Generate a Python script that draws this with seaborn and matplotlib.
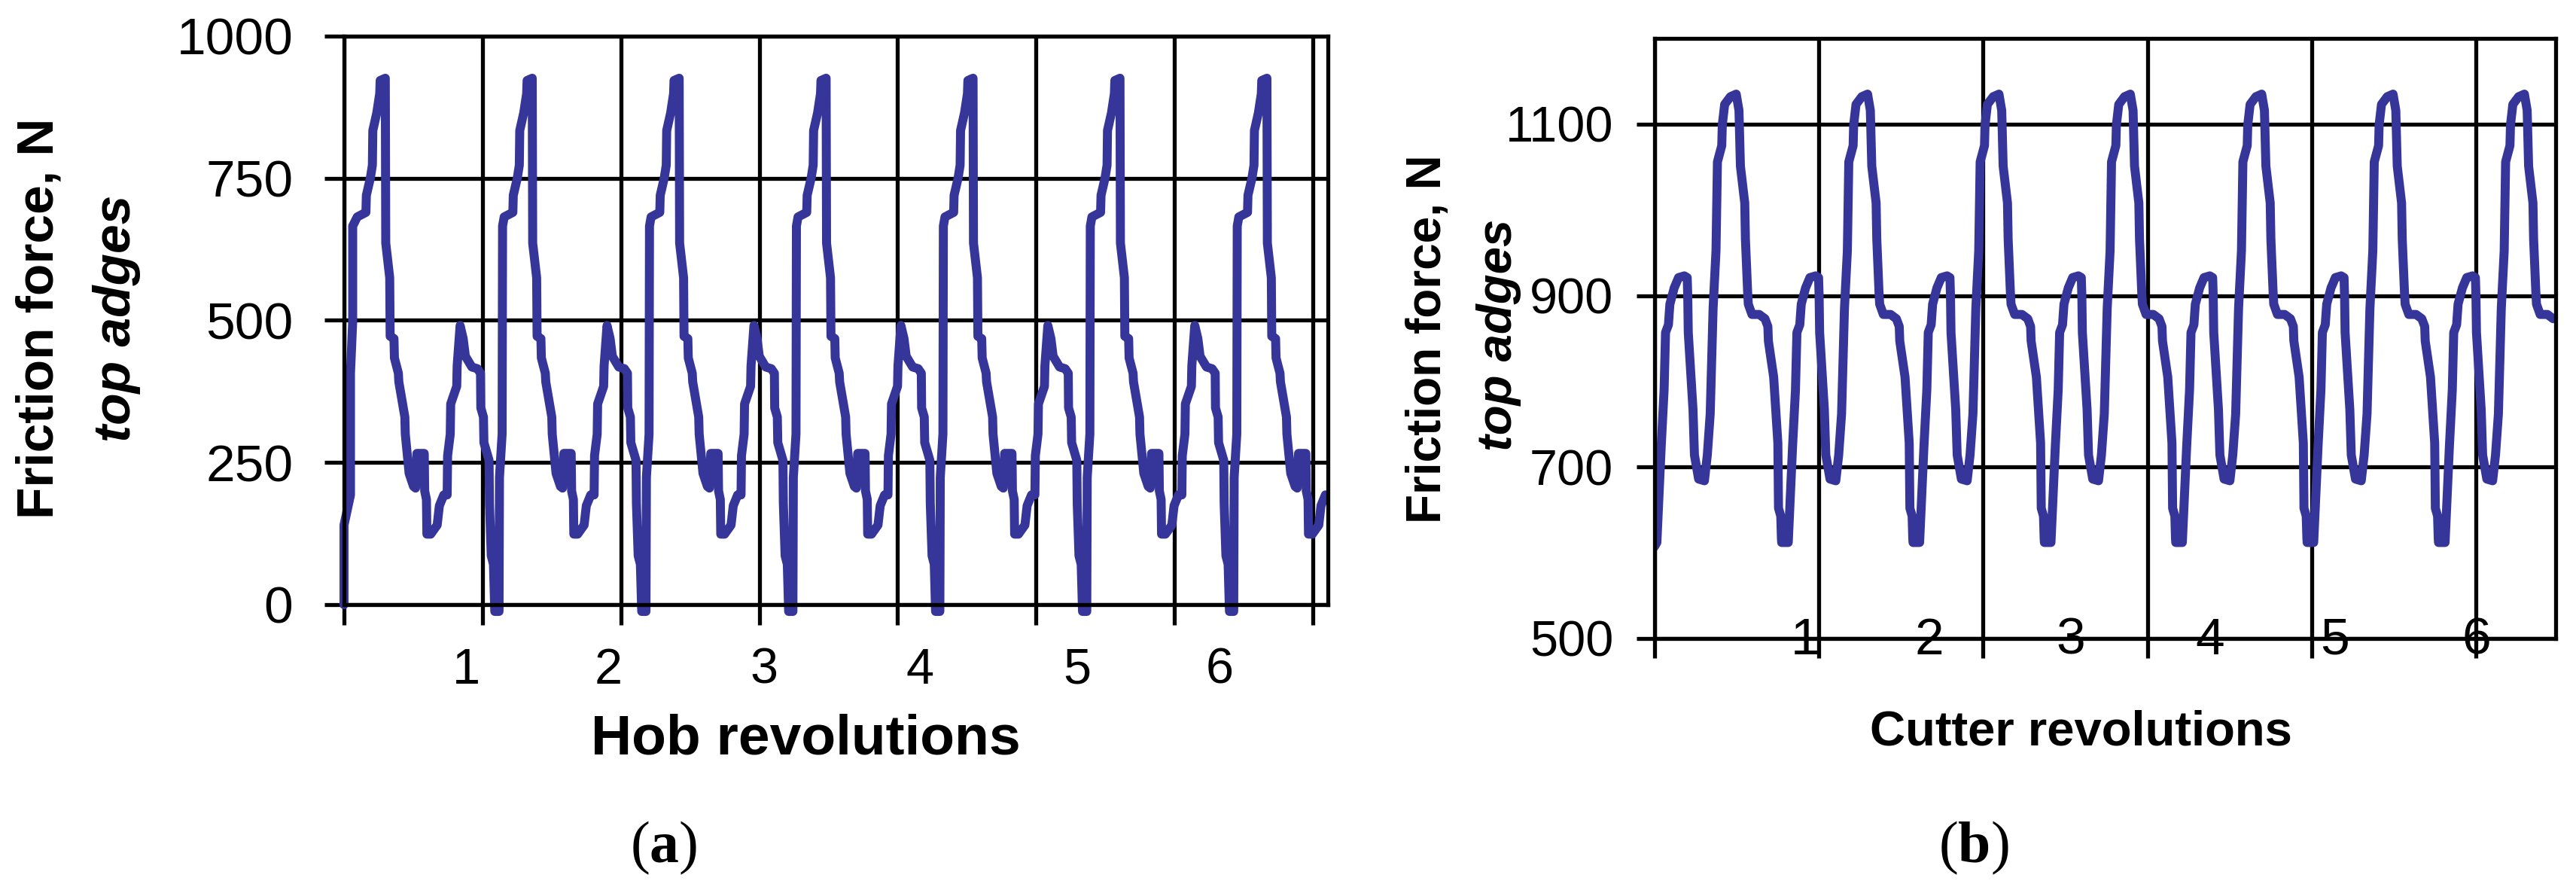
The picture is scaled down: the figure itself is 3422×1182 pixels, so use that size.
import matplotlib
matplotlib.use("Agg")
import matplotlib.pyplot as plt
import seaborn as sns
import pandas as pd

# --- (a) hob: one revolution of the friction force
# position from the start of the cycle (revolutions) and force (N)
hob_cycle_pos = [0.000, 0.003, 0.021, 0.024, 0.035, 0.094, 0.097, 0.124, 0.138, 0.141,
                 0.168, 0.188, 0.191, 0.226, 0.229, 0.256, 0.259, 0.285, 0.288, 0.315,
                 0.318, 0.359, 0.362, 0.388, 0.418, 0.432, 0.441, 0.491, 0.494, 0.506,
                 0.509, 0.535, 0.579, 0.594, 0.624, 0.647, 0.650, 0.668, 0.671, 0.712,
                 0.715, 0.735, 0.756, 0.771, 0.815, 0.853, 0.874, 0.876, 0.894, 0.897,
                 0.932, 0.935, 0.947, 0.962, 0.971]
hob_cycle_force = [-12, 224, 300, 666, 682, 690, 720, 750, 773, 834,
                   865, 899, 922, 926, 636, 575, 472, 468, 434, 407,
                   392, 330, 300, 231, 208, 205, 266, 266, 200, 185,
                   124, 124, 140, 174, 193, 193, 262, 300, 353, 384,
                   420, 491, 468, 437, 418, 415, 407, 346, 330, 285,
                   254, 178, 86, 71, -12]
# beginning of the record, before the first cycle
hob_lead_pos = [0.000, 0.000, 0.044, 0.044, 0.059, 0.059]
hob_lead_force = [0, 140, 193, 407, 498, 666]
hob_phase = 0.055
hob_first_from = 0.03
hob_cycles = 7
hob_x_end = 6.696
hob_grid_step = 0.942
hob_label_pos = [0.83, 1.80, 2.86, 3.92, 4.99, 5.96]
hob_yticks = [0, 250, 500, 750, 1000]

# --- (b) cutter
cutter_cycle_pos = [0.000, 0.050, 0.061, 0.083, 0.105, 0.116, 0.138, 0.149, 0.182, 0.215,
                    0.259, 0.281, 0.285, 0.289, 0.325, 0.336, 0.368, 0.412, 0.434, 0.456,
                    0.478, 0.500, 0.511, 0.544, 0.548, 0.566, 0.610, 0.654, 0.675, 0.686,
                    0.719, 0.724, 0.741, 0.746, 0.774, 0.829, 0.873, 0.895, 0.899, 0.939,
                    0.971, 0.976, 0.993, 0.998]
cutter_cycle_force = [612, 612, 650, 724, 790, 857, 866, 890, 909, 921,
                      923, 921, 900, 857, 767, 714, 686, 684, 714, 762,
                      885, 952, 1056, 1075, 1099, 1123, 1132, 1135, 1116, 1051,
                      1008, 966, 904, 890, 878, 878, 873, 864, 847, 805,
                      728, 652, 643, 617]
cutter_lead_pos = [0.0]
cutter_lead_force = [607]
cutter_phase = -0.031
cutter_first_from = 0.0
cutter_cycles = 7
cutter_x_end = 6.861
cutter_grid_step = 1.251
cutter_label_pos = [1.15, 2.09, 3.17, 4.23, 5.18, 6.26]
cutter_yticks = [500, 700, 900, 1100]

rev_labels = ['1', '2', '3', '4', '5', '6']


def build_series(lead_pos, lead_force, cyc_pos, cyc_force, phase, first_from, n_cycles, x_end):
    xs, ys = list(lead_pos), list(lead_force)
    for k in range(n_cycles):
        for p, f in zip(cyc_pos, cyc_force):
            if k == 0 and p < first_from:
                continue
            x = phase + k + p
            if 0 < x <= x_end:
                xs.append(x)
                ys.append(f)
    return pd.DataFrame({'rev': xs, 'force': ys})


df_hob = build_series(hob_lead_pos, hob_lead_force, hob_cycle_pos, hob_cycle_force,
                      hob_phase, hob_first_from, hob_cycles, hob_x_end)
df_cutter = build_series(cutter_lead_pos, cutter_lead_force, cutter_cycle_pos, cutter_cycle_force,
                         cutter_phase, cutter_first_from, cutter_cycles, cutter_x_end)

sns.set_style('ticks')
plt.rcParams['font.family'] = ['Liberation Sans', 'DejaVu Sans']
plt.rcParams['mathtext.fontset'] = 'custom'
plt.rcParams['mathtext.rm'] = 'Liberation Serif'
plt.rcParams['mathtext.bf'] = 'Liberation Serif:bold'
for key in ['text.color', 'axes.labelcolor', 'xtick.color', 'ytick.color', 'axes.edgecolor']:
    plt.rcParams[key] = 'black'

W, H, DPI = 3422, 1182, 200
LINE = '#35359a'
GRID_LW = 1.9
CURVE_LW = 4.3

fig = plt.figure(figsize=(W / DPI, H / DPI), dpi=DPI)
ax_a = fig.add_axes([457 / W, 1 - 803 / H, (1764 - 457) / W, (803 - 48) / H])
ax_b = fig.add_axes([2197.7 / W, 1 - 848 / H, (3395 - 2197.7) / W, (848 - 51) / H])


def style_axes(ax, grid_step, n_grid, label_pos, yticks, ylim, x_end,
               ylen, xlen, ypad, xpad, ysize, xsize):
    ax.set_xlim(0, x_end)
    ax.set_ylim(*ylim)
    ax.set_xticks([i * grid_step for i in range(n_grid)], labels=[''] * n_grid)
    ax.set_xticks(label_pos, labels=rev_labels, minor=True)
    ax.set_yticks(yticks, labels=[str(v) for v in yticks])
    ax.grid(True, which='major', color='black', linewidth=GRID_LW)
    ax.grid(False, which='minor')
    ax.set_axisbelow(True)
    for s in ax.spines.values():
        s.set_visible(True)
        s.set_color('black')
        s.set_linewidth(GRID_LW)
    ax.tick_params(axis='y', which='major', left=True, direction='out', length=ylen,
                   width=GRID_LW, color='black', pad=ypad, labelsize=ysize, labelcolor='black')
    ax.tick_params(axis='x', which='major', bottom=True, direction='out', length=xlen,
                   width=GRID_LW, color='black')
    ax.tick_params(axis='x', which='minor', bottom=True, length=0, pad=xpad,
                   labelsize=xsize, labelcolor='black')
    ax.set_xlabel('')
    ax.set_ylabel('')


# (a)
sns.lineplot(data=df_hob, x='rev', y='force', ax=ax_a, color=LINE, linewidth=CURVE_LW,
             sort=False, estimator=None, clip_on=False)
style_axes(ax_a, hob_grid_step, 8, hob_label_pos, hob_yticks, (0, 1000), hob_x_end,
           ylen=9.4, xlen=9.7, ypad=15, xpad=20.5, ysize=25, xsize=24)

# (b)
sns.lineplot(data=df_cutter, x='rev', y='force', ax=ax_b, color=LINE, linewidth=CURVE_LW,
             sort=False, estimator=None)
style_axes(ax_b, cutter_grid_step, 6, cutter_label_pos, cutter_yticks, (500, 1200), cutter_x_end,
           ylen=8.6, xlen=9.4, ypad=11, xpad=-10.5, ysize=24, xsize=25)


def fx(px):
    return px / W


def fy(py):
    return 1 - py / H


# axis titles
fig.text(fx(53), fy(423), 'Friction force, N', rotation=90, ha='center', va='center',
         fontsize=25, fontweight='bold')
fig.text(fx(155), fy(423), 'top adges', rotation=90, ha='center', va='center',
         fontsize=25, fontweight='bold', fontstyle='italic')
fig.text(fx(1070), fy(1001), 'Hob revolutions', ha='center', va='baseline',
         fontsize=27, fontweight='bold')

fig.text(fx(1897), fy(450), 'Friction force, N', rotation=90, ha='center', va='center',
         fontsize=23, fontweight='bold')
fig.text(fx(1991), fy(445), 'top adges', rotation=90, ha='center', va='center',
         fontsize=23.5, fontweight='bold', fontstyle='italic')
fig.text(fx(2764), fy(989), 'Cutter revolutions', ha='center', va='baseline',
         fontsize=23.5, fontweight='bold')

# panel captions
fig.text(fx(882), fy(1145), r'($\mathbf{a}$)', ha='center', va='baseline',
         fontsize=28, family='Liberation Serif')
fig.text(fx(2622), fy(1145), r'($\mathbf{b}$)', ha='center', va='baseline',
         fontsize=28, family='Liberation Serif')

fig.savefig('out.png', dpi=DPI)
plt.close(fig)
